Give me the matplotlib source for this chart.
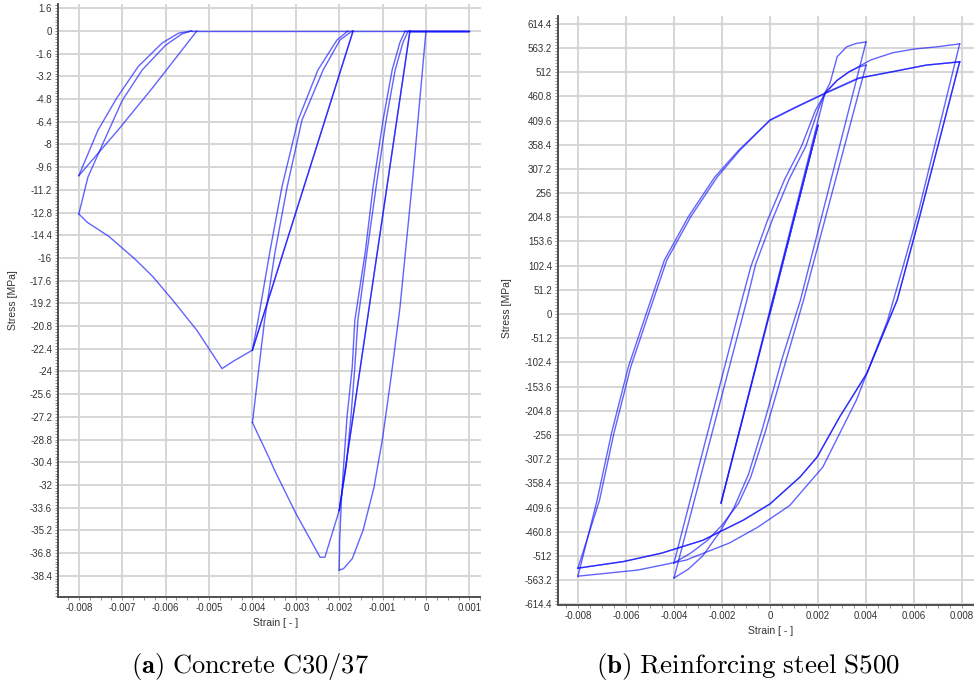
import numpy as np
import matplotlib
matplotlib.use("Agg")
import matplotlib.pyplot as plt
from matplotlib.ticker import MultipleLocator, AutoMinorLocator, FuncFormatter
from matplotlib.patches import Rectangle

plt.rcParams['font.family'] = ['Liberation Sans', 'DejaVu Sans']
plt.rcParams['mathtext.fontset'] = 'cm'
plt.rcParams['axes.unicode_minus'] = False

# ---- concrete C30/37 branches: (strain, stress MPa) ----
c_load1 = [(0.0, 0.0), (-0.0003, -10.2), (-0.0006, -19.5), (-0.0008, -24.3), (-0.001, -28.7),
           (-0.0012, -32.2), (-0.00145, -35.2), (-0.0017, -37.2), (-0.0019, -37.9), (-0.002, -38.0)]
c_unload1 = [(-0.002, -38.0), (-0.00199, -36.0), (-0.00195, -33.1), (-0.0019, -30.7), (-0.00182, -27.2),
             (-0.0017, -23.7), (-0.00164, -20.4), (-0.0014, -15.6), (-0.00122, -11.0), (-0.00099, -6.3),
             (-0.00078, -2.75), (-0.0006, -0.8), (-0.00048, 0.0)]
c_reload1 = [(-0.00037, 0.0), (-0.002, -33.8)]
c_unload2 = [(-0.002, -33.8), (-0.00184, -30.7), (-0.00173, -27.2), (-0.00164, -23.7), (-0.00157, -20.4),
             (-0.00136, -15.6), (-0.00115, -11.0), (-0.00092, -6.3), (-0.00071, -2.75), (-0.00053, -0.8),
             (-0.00041, 0.0)]
c_env2 = [(-0.002, -33.8), (-0.00233, -37.1), (-0.00244, -37.1), (-0.003, -34.0), (-0.0035, -30.9),
          (-0.0036, -30.2), (-0.004, -27.6)]
c_unload3 = [(-0.004, -27.6), (-0.00372, -20.4), (-0.00348, -15.6), (-0.0032, -11.0), (-0.00286, -6.3),
             (-0.00237, -2.75), (-0.00198, -0.63), (-0.0017, 0.0)]
c_reload2 = [(-0.00168, 0.0), (-0.004, -22.5)]
c_unload4 = [(-0.004, -22.5), (-0.00387, -20.4), (-0.0036, -15.6), (-0.00332, -11.0), (-0.00295, -6.3),
             (-0.00249, -2.75), (-0.00205, -0.63), (-0.0018, 0.0)]
c_env3 = [(-0.004, -22.5), (-0.00445, -23.3), (-0.0047, -23.8), (-0.00528, -21.1), (-0.00583, -19.0),
          (-0.0063, -17.3), (-0.0067, -16.1), (-0.0073, -14.5), (-0.0078, -13.5), (-0.008, -12.9)]
c_unload5 = [(-0.008, -12.9), (-0.00779, -10.3), (-0.00744, -7.9), (-0.007, -4.9), (-0.00654, -2.75),
             (-0.006, -1.0), (-0.00562, -0.2), (-0.0054, 0.0)]
c_reload3 = [(-0.00528, 0.0), (-0.0063, -4.0), (-0.0071, -7.0), (-0.008, -10.2)]
c_unload6 = [(-0.008, -10.2), (-0.00756, -7.0), (-0.00712, -4.7), (-0.00663, -2.5), (-0.00608, -0.85),
             (-0.0057, -0.15), (-0.0054, 0.0)]
c_zero = [(-0.0054, 0.0), (0.001, 0.0)]

# ---- reinforcing steel S500 branches: (strain, stress MPa) ----
s_elastic = [(0.0, 0.0), (0.002, 400.0), (-0.00204, -400.0)]
s_up1 = [(-0.00204, -400.0), (0.0023, 470.0), (0.0025, 489.0), (0.0028, 545.0), (0.0032, 566.0),
         (0.0036, 573.0), (0.004, 576.0)]
s_down1 = [(0.004, 576.0), (0.00127, 30.0), (0.0005, -95.0), (-0.0003, -240.0), (-0.0009, -340.0),
           (-0.0015, -410.0), (-0.0021, -462.0), (-0.0028, -512.0), (-0.0034, -540.0), (-0.004, -559.0)]
s_up2 = [(-0.004, -559.0), (-0.00096, 30.0), (-0.0006, 105.0), (0.0001, 200.0), (0.0008, 286.0),
         (0.0015, 356.0), (0.002, 432.0), (0.0023, 468.0), (0.0028, 495.0), (0.0033, 513.0),
         (0.0037, 523.0), (0.004, 527.0)]
s_down2 = [(0.004, 527.0), (0.0014, 30.0), (0.0006, -110.0), (-0.0002, -250.0), (-0.0008, -345.0),
           (-0.0013, -400.0), (-0.002, -447.0), (-0.0026, -479.0), (-0.0033, -506.0), (-0.004, -527.0)]
s_up3 = [(-0.004, -527.0), (-0.00117, 30.0), (-0.0008, 100.0), (-0.0001, 199.0), (0.0006, 284.0),
         (0.0013, 354.0), (0.0019, 432.0), (0.0023, 468.0), (0.0028, 495.0), (0.0033, 513.0),
         (0.0037, 524.0), (0.0042, 538.0), (0.0051, 553.0), (0.006, 561.0), (0.007, 566.0), (0.0079, 572.0)]
s_down3 = [(0.0079, 572.0), (0.0062, 220.0), (0.0055, 93.0), (0.0049, -13.0), (0.0036, -182.0),
           (0.0022, -324.0), (0.00125, -380.0), (0.00083, -405.0), (-0.0005, -451.0), (-0.0017, -485.0),
           (-0.0035, -521.0), (-0.0055, -542.0), (-0.008, -555.0)]
s_up4 = [(-0.008, -555.0), (-0.0072, -394.0), (-0.0066, -252.0), (-0.0059, -112.0), (-0.0052, -6.0),
         (-0.0044, 114.0), (-0.0034, 206.0), (-0.0023, 290.0), (-0.0013, 347.0), (0.0, 410.0),
         (0.0011, 438.0), (0.0023, 467.0), (0.0037, 499.0), (0.0051, 513.0), (0.0065, 527.0), (0.0079, 534.0)]
s_down4 = [(0.0079, 534.0), (0.0062, 200.0), (0.0053, 30.0), (0.00404, -125.0), (0.0029, -218.0),
           (0.00196, -303.0), (0.00125, -345.0), (0.0, -402.0), (-0.0011, -436.0), (-0.0028, -479.0),
           (-0.0045, -506.0), (-0.0061, -524.0), (-0.008, -538.0)]
s_up5 = [(-0.008, -538.0), (-0.0071, -394.0), (-0.0065, -252.0), (-0.0058, -112.0), (-0.0051, -6.0),
         (-0.0043, 114.0), (-0.0033, 206.0), (-0.0022, 290.0), (-0.00125, 347.0), (0.0, 411.0),
         (0.0011, 439.0), (0.0023, 468.0), (0.0037, 500.0), (0.0051, 513.0), (0.0065, 527.0), (0.0079, 534.0)]

conc_history = [c_load1, c_unload1, [(-0.00048, 0.0), (0.001, 0.0), (-0.00037, 0.0)], c_reload1, c_unload2,
                [(-0.00041, 0.0), (0.001, 0.0), (-0.00037, 0.0)], c_reload1, c_env2, c_unload3,
                c_reload2, c_unload4, c_reload2, c_env3, c_unload5, c_reload3, c_unload6, c_zero]
steel_history = [s_elastic, s_elastic[1:], s_up1, s_down1, s_up2, s_down2, s_up3, s_down3,
                 s_up4, s_down4, s_up5, s_down4]

W, H = 974, 689
fig = plt.figure(figsize=(W / 100, H / 100), dpi=100)


def px_rect(l, t, r, b):
    return [l / W, 1 - b / H, (r - l) / W, (b - t) / H]


def fmt(v, pos):
    s = ('%.4f' % v).rstrip('0').rstrip('.')
    if s in ('-0', ''):
        s = '0'
    return s


def style(ax, xmaj, ymaj, xminor, yminor):
    ax.xaxis.set_major_locator(MultipleLocator(xmaj))
    ax.yaxis.set_major_locator(MultipleLocator(ymaj))
    ax.xaxis.set_minor_locator(AutoMinorLocator(xminor))
    ax.yaxis.set_minor_locator(AutoMinorLocator(yminor))
    ax.xaxis.set_major_formatter(FuncFormatter(fmt))
    ax.yaxis.set_major_formatter(FuncFormatter(fmt))
    ax.grid(True, which='major', color='#d6d6d6', lw=1.4)
    ax.set_axisbelow(True)
    for side in ['top', 'right']:
        ax.spines[side].set_visible(False)
    for side in ['left', 'bottom']:
        ax.spines[side].set_color('#505050')
        ax.spines[side].set_linewidth(1.4)
    ax.tick_params(which='both', direction='out', length=2.2, width=0.6, color='#808080',
                   labelsize=7, labelcolor='#333333', pad=2)


def draw(ax, history):
    for b in history:
        a = np.array(b)
        ax.plot(a[:, 0], a[:, 1], color='#1010ff', lw=1.0, alpha=0.65, solid_joinstyle='round')


ax1 = fig.add_axes(px_rect(58, 4, 494, 597))
draw(ax1, conc_history)
style(ax1, 0.001, 1.6, 4, 8)
ax1.set_xlim(-0.00848, 0.001567)
ax1.set_ylim(-39.9, 1.9)

ax2 = fig.add_axes(px_rect(558, 16, 982, 605))
draw(ax2, steel_history)
style(ax2, 0.002, 51.2, 4, 8)
ax2.set_xlim(-0.00883, 0.00883)
ax2.set_ylim(-616.0, 631.0)

# the left screenshot is cropped before the right one starts
fig.add_artist(Rectangle((481 / W, 1 - 640 / H), 16 / W, 640 / H, transform=fig.transFigure,
                         facecolor='white', edgecolor='none', zorder=10))

lab = dict(fontsize=7.5, color='#333333', ha='center', va='center')
fig.text(13 / W, 1 - 300 / H, 'Stress [MPa]', rotation=90, **lab)
fig.text(276 / W, 1 - 623 / H, 'Strain [ - ]', **lab)
fig.text(507 / W, 1 - 308 / H, 'Stress [MPa]', rotation=90, **lab)
fig.text(771 / W, 1 - 631 / H, 'Strain [ - ]', **lab)

fig.text(250 / W, 1 - 666 / H, r'$\mathbf{(a)}\ \mathrm{Concrete\ C30/37}$', fontsize=19,
         ha='center', va='center')
fig.text(748 / W, 1 - 666 / H, r'$\mathbf{(b)}\ \mathrm{Reinforcing\ steel\ S500}$', fontsize=19.5,
         ha='center', va='center')

fig.savefig('out.png', dpi=100)
